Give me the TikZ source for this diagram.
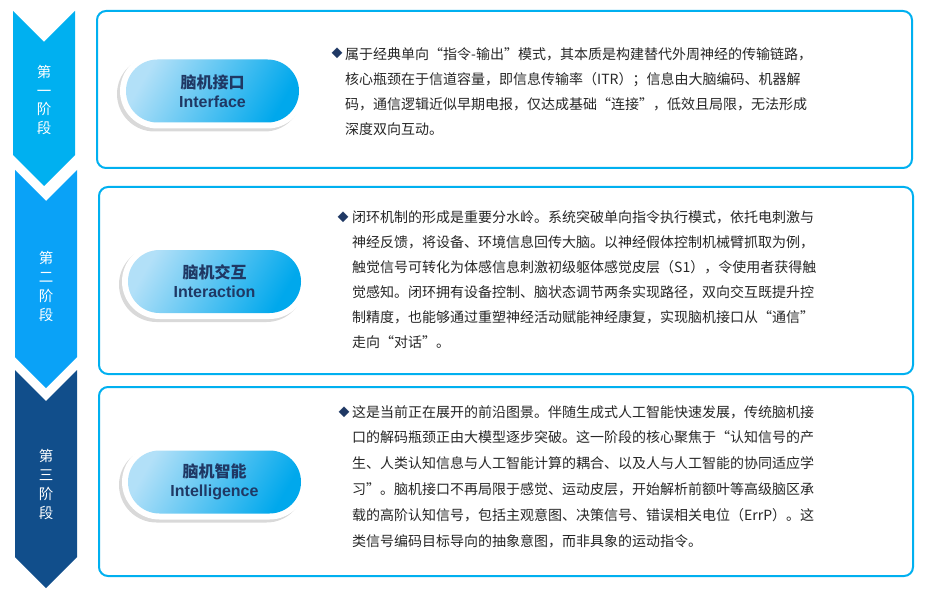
\documentclass[tikz,border=0pt]{standalone}
\usepackage{fontspec}
\setmainfont{Liberation Sans}
\newfontfamily\cjk{Noto Sans CJK SC}
\usepackage{tikz}
\usetikzlibrary{shadows}
\definecolor{stepone}{HTML}{00B0F0}
\definecolor{steptwo}{HTML}{0AA2F7}
\definecolor{stepthree}{HTML}{114E8B}
\definecolor{frameblue}{HTML}{00B0F0}
\definecolor{pilllight}{HTML}{B2E0F8}
\definecolor{pilldark}{HTML}{00A8EC}
\definecolor{titlenavy}{HTML}{1F3864}
\definecolor{bodygray}{HTML}{262626}

\begin{document}
\begin{tikzpicture}[x=1pt, y=-1pt,
    frame/.style={draw=frameblue, line width=2pt, rounded corners=9pt},
    steplabel/.style={text=white, align=center, inner sep=0pt,
        font=\cjk\fontsize{14.5}{18.7}\selectfont},
    pillring/.style={fill=white, rounded corners=37.5pt, minimum width=185pt,
        minimum height=75pt, inner sep=0pt,
        drop shadow={shadow xshift=-3pt, shadow yshift=-3pt, opacity=0.3}},
    pill/.style={rounded corners=31.5pt, minimum width=173pt, minimum height=63pt,
        inner sep=0pt, left color=pilllight, right color=pilldark, shading angle=60,
        text=titlenavy, align=center, font=\bfseries\fontsize{16}{19}\selectfont},
    bullet/.style={text=titlenavy, inner sep=0pt, font=\cjk\fontsize{11}{11}\selectfont},
    bodytext/.style={text=bodygray, align=left, inner sep=0pt, anchor=north west,
        font=\cjk\fontsize{14}{25}\selectfont}]
\useasboundingbox (0,0) rectangle (931,596);

% stage arrows
\fill[stepone] (13,11) -- (44,42) -- (75,11) -- (75,155) -- (44,186) -- (13,155) -- cycle;
\fill[steptwo] (15,170) -- (46,201) -- (77,170) -- (77,357) -- (46,388) -- (15,357) -- cycle;
\fill[stepthree] (15,370) -- (46,401) -- (77,370) -- (77,557) -- (46,588) -- (15,557) -- cycle;

\node[steplabel] (lab1) at (44,100) {第\\一\\阶\\段};
\node[steplabel] (lab2) at (46,286.5) {第\\二\\阶\\段};
\node[steplabel] (lab3) at (46,484.5) {第\\三\\阶\\段};

% frames
\draw[frame] (97,11) rectangle (912,168);
\draw[frame] (99,187) rectangle (913,374);
\draw[frame] (99,387) rectangle (913,576);

% pills
\node[pillring] (ring1) at (212.5,91) {};
\node[pill] (pill1) at (212.5,91) {{\cjk\bfseries 脑机接口}\\Interface};
\node[pillring] (ring2) at (214.5,281.5) {};
\node[pill] (pill2) at (214.5,281.5) {{\cjk\bfseries 脑机交互}\\Interaction};
\node[pillring] (ring3) at (214.5,482) {};
\node[pill] (pill3) at (214.5,482) {{\cjk\bfseries 脑机智能}\\Intelligence};

% texts
\node[bullet] (dot1) at (337,53) {◆};
\node[bodytext] (text1) at (345,47) {属于经典单向“指令-输出”模式，其本质是构建替代外周神经的传输链路，\\
核心瓶颈在于信道容量，即信息传输率（ITR）；信息由大脑编码、机器解\\
码，通信逻辑近似早期电报，仅达成基础“连接”，低效且局限，无法形成\\
深度双向互动。};

\node[bullet] (dot2) at (343,217) {◆};
\node[bodytext] (text2) at (352,210) {闭环机制的形成是重要分水岭。系统突破单向指令执行模式，依托电刺激与\\
神经反馈，将设备、环境信息回传大脑。以神经假体控制机械臂抓取为例，\\
触觉信号可转化为体感信息刺激初级躯体感觉皮层（S1），令使用者获得触\\
觉感知。闭环拥有设备控制、脑状态调节两条实现路径，双向交互既提升控\\
制精度，也能够通过重塑神经活动赋能神经康复，实现脑机接口从“通信”\\
走向“对话”。};

\node[bullet] (dot3) at (344,412) {◆};
\node[bodytext, font=\cjk\fontsize{14}{25.9}\selectfont] (text3) at (352,405) {这是当前正在展开的前沿图景。伴随生成式人工智能快速发展，传统脑机接\\
口的解码瓶颈正由大模型逐步突破。这一阶段的核心聚焦于“认知信号的产\\
生、人类认知信息与人工智能计算的耦合、以及人与人工智能的协同适应学\\
习”。脑机接口不再局限于感觉、运动皮层，开始解析前额叶等高级脑区承\\
载的高阶认知信号，包括主观意图、决策信号、错误相关电位（ErrP）。这\\
类信号编码目标导向的抽象意图，而非具象的运动指令。};

\end{tikzpicture}
\end{document}
